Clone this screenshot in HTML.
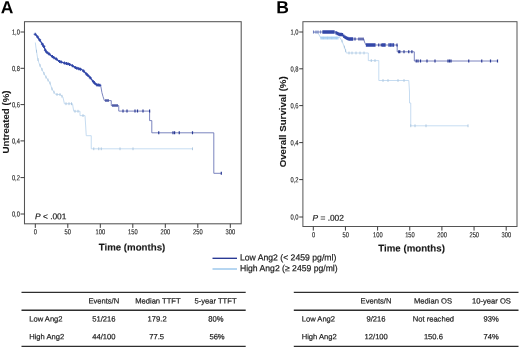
<!DOCTYPE html>
<html lang="en">
<head>
<meta charset="utf-8">
<title>Kaplan-Meier curves: Low vs High Ang2</title>
<style>
html,body{margin:0;padding:0;background:#fff;}
body{width:520px;height:348px;position:relative;overflow:hidden;font-family:"Liberation Sans",Arial,Helvetica,sans-serif;}
.fig{position:absolute;left:0;top:0;display:block;font-family:"Liberation Sans",Arial,Helvetica,sans-serif;}
.fig text{fill:#1a1a1a;}
.fig text.t{stroke:#1a1a1a;stroke-width:0.2px;}
.fig text.k{stroke:#1a1a1a;stroke-width:0.12px;}
.fig text.b{font-weight:bold;stroke:#1a1a1a;stroke-width:0.12px;}
.fig text.p{font-weight:bold;fill:#000;}
</style>
</head>
<body>
<svg width="520" height="348" viewBox="0 0 520 348" class="fig">
<defs><filter id="soft" x="-5%" y="-5%" width="110%" height="110%"><feGaussianBlur stdDeviation="0.35"/></filter></defs>
<rect width="520" height="348" fill="#ffffff"/>
<g filter="url(#soft)">
<rect x="24.5" y="21.7" width="216.7" height="202.1" fill="none" stroke="#555" stroke-width="1.05"/>
<rect x="302.9" y="21.7" width="214.1" height="204.8" fill="none" stroke="#555" stroke-width="1.0"/>
<path d="M20.5,32H24.5M20.5,68.3H24.5M20.5,104.6H24.5M20.5,140.9H24.5M20.5,177.6H24.5M20.5,214H24.5M299.2,32H303M299.2,68.8H303M299.2,105.6H303M299.2,142.6H303M299.2,179.6H303M299.2,217H303M35.30,223.8V227.9M67.80,223.8V227.9M100.30,223.8V227.9M132.80,223.8V227.9M165.30,223.8V227.9M197.80,223.8V227.9M230.30,223.8V227.9M313.30,226.5V230.6M345.45,226.5V230.6M377.60,226.5V230.6M409.75,226.5V230.6M441.90,226.5V230.6M474.05,226.5V230.6M506.20,226.5V230.6" stroke="#3c3c3c" stroke-width="1" fill="none"/>
<text transform="translate(19.90,34.60) rotate(0.05) scale(0.79,1)" class="k" font-size="7.3" text-anchor="end">1,0</text>
<text transform="translate(19.90,70.90) rotate(0.05) scale(0.79,1)" class="k" font-size="7.3" text-anchor="end">0,8</text>
<text transform="translate(19.90,107.20) rotate(0.05) scale(0.79,1)" class="k" font-size="7.3" text-anchor="end">0,6</text>
<text transform="translate(19.90,143.50) rotate(0.05) scale(0.79,1)" class="k" font-size="7.3" text-anchor="end">0,4</text>
<text transform="translate(19.90,180.20) rotate(0.05) scale(0.79,1)" class="k" font-size="7.3" text-anchor="end">0,2</text>
<text transform="translate(19.90,216.60) rotate(0.05) scale(0.79,1)" class="k" font-size="7.3" text-anchor="end">0,0</text>
<text transform="translate(298.40,34.60) rotate(0.05) scale(0.79,1)" class="k" font-size="7.3" text-anchor="end">1,0</text>
<text transform="translate(298.40,71.40) rotate(0.05) scale(0.79,1)" class="k" font-size="7.3" text-anchor="end">0,8</text>
<text transform="translate(298.40,108.20) rotate(0.05) scale(0.79,1)" class="k" font-size="7.3" text-anchor="end">0,6</text>
<text transform="translate(298.40,145.20) rotate(0.05) scale(0.79,1)" class="k" font-size="7.3" text-anchor="end">0,4</text>
<text transform="translate(298.40,182.20) rotate(0.05) scale(0.79,1)" class="k" font-size="7.3" text-anchor="end">0,2</text>
<text transform="translate(298.40,219.60) rotate(0.05) scale(0.79,1)" class="k" font-size="7.3" text-anchor="end">0,0</text>
<text transform="translate(35.30,234.30) rotate(0.05) scale(0.79,1)" class="k" font-size="7.3" text-anchor="middle">0</text>
<text transform="translate(67.80,234.30) rotate(0.05) scale(0.79,1)" class="k" font-size="7.3" text-anchor="middle">50</text>
<text transform="translate(100.30,234.30) rotate(0.05) scale(0.79,1)" class="k" font-size="7.3" text-anchor="middle">100</text>
<text transform="translate(132.80,234.30) rotate(0.05) scale(0.79,1)" class="k" font-size="7.3" text-anchor="middle">150</text>
<text transform="translate(165.30,234.30) rotate(0.05) scale(0.79,1)" class="k" font-size="7.3" text-anchor="middle">200</text>
<text transform="translate(197.80,234.30) rotate(0.05) scale(0.79,1)" class="k" font-size="7.3" text-anchor="middle">250</text>
<text transform="translate(230.30,234.30) rotate(0.05) scale(0.79,1)" class="k" font-size="7.3" text-anchor="middle">300</text>
<text transform="translate(313.50,237.20) rotate(0.05) scale(0.79,1)" class="k" font-size="7.3" text-anchor="middle">0</text>
<text transform="translate(345.65,237.20) rotate(0.05) scale(0.79,1)" class="k" font-size="7.3" text-anchor="middle">50</text>
<text transform="translate(377.80,237.20) rotate(0.05) scale(0.79,1)" class="k" font-size="7.3" text-anchor="middle">100</text>
<text transform="translate(409.95,237.20) rotate(0.05) scale(0.79,1)" class="k" font-size="7.3" text-anchor="middle">150</text>
<text transform="translate(442.10,237.20) rotate(0.05) scale(0.79,1)" class="k" font-size="7.3" text-anchor="middle">200</text>
<text transform="translate(474.25,237.20) rotate(0.05) scale(0.79,1)" class="k" font-size="7.3" text-anchor="middle">250</text>
<text transform="translate(506.40,237.20) rotate(0.05) scale(0.79,1)" class="k" font-size="7.3" text-anchor="middle">300</text>
<text transform="translate(132.00,250.50) rotate(0.05)" class="b" font-size="9.7" text-anchor="middle">Time (months)</text>
<text transform="translate(411.60,251.50) rotate(0.05)" class="b" font-size="9.7" text-anchor="middle">Time (months)</text>
<text transform="translate(8.6,122) rotate(-90)" class="b" font-size="9.7" text-anchor="middle">Untreated (%)</text>
<text transform="translate(285.6,121.8) rotate(-90)" class="b" font-size="9.7" text-anchor="middle">Overall Survival (%)</text>
<text transform="translate(0.80,13.30) rotate(0.05)" class="p" font-size="17.5">A</text>
<text transform="translate(276.20,13.30) rotate(0.05)" class="p" font-size="17.5">B</text>
<text transform="translate(35.00,219.20) rotate(0.05)" class="t" font-size="8.4"><tspan font-style="italic">P</tspan> &lt; .001</text>
<text transform="translate(312.50,220.80) rotate(0.05)" class="t" font-size="8.4"><tspan font-style="italic">P</tspan> = .002</text>
<path d="M35.30,42.50 L36.00,48.00 L36.90,53.75 L37.60,58.00 L38.75,62.50 L40.50,66.50 L42.50,70.50 L44.00,73.50 L45.60,76.50 L48.00,80.00 L50.00,83.00 L51.90,88.75 L53.50,91.50 L55.60,94.40 L60.60,94.60 L63.00,97.50 L63.60,100.00 L64.40,103.75 L72.50,103.75 L73.00,107.00 L73.75,111.25 L80.00,111.25 L80.00,115.60 L85.00,115.60 L85.60,125.00 L86.25,135.70 L91.25,135.70 L91.25,148.80 L192.50,148.80" fill="none" stroke="#bcd6ee" stroke-width="0.85" stroke-linejoin="round"/>
<path d="M36.50,49.79V52.59M38.00,58.17V60.97M40.00,63.96V66.76M42.00,68.10V70.90M44.00,72.10V74.90M46.00,75.68V78.48M48.00,78.60V81.40M50.00,81.60V84.40M52.00,87.52V90.32M54.00,90.79V93.59M57.00,93.06V95.86M60.00,93.18V95.98M62.00,94.89V97.69M66.00,102.35V105.15M69.00,102.35V105.15M71.50,102.35V105.15M75.00,109.85V112.65M78.00,109.85V112.65M83.00,114.20V117.00M93.75,147.40V150.20M98.75,147.40V150.20M101.25,147.40V150.20M120.00,147.40V150.20M133.00,147.40V150.20M192.50,147.40V150.20" stroke="#a8c4de" stroke-width="0.9" fill="none"/>
<path d="M35.00,34.00 L36.50,35.50 L38.00,37.50 L40.00,40.50 L42.00,43.50 L43.75,46.25 L45.00,49.50 L46.25,51.90 L48.50,53.50 L51.00,55.50 L53.50,57.50 L56.25,59.00 L59.00,61.20 L62.50,62.50 L66.00,63.50 L68.75,64.00 L72.00,65.50 L76.25,68.00 L80.00,69.00 L82.50,70.00 L85.00,72.50 L87.50,75.00 L90.00,77.50 L92.50,80.60 L95.00,83.50 L96.90,85.00 L100.60,85.30 L101.30,89.00 L101.90,92.50 L103.00,96.50 L104.40,100.60 L111.25,100.60 L111.25,105.60 L118.75,105.60 L118.75,111.10 L149.60,111.10 L149.60,120.60 L151.80,120.60 L151.80,132.80 L213.80,132.80 L213.80,173.30 L221.30,173.30" fill="none" stroke="#5a66ae" stroke-width="0.8" stroke-linejoin="round"/>
<path d="M35.00,34.00 L36.50,35.50 L38.00,37.50 L40.00,40.50 L42.00,43.50 L43.75,46.25 L45.00,49.50 L46.25,51.90 L48.50,53.50 L51.00,55.50 L53.50,57.50 L56.25,59.00 L59.00,61.20 L62.50,62.50 L66.00,63.50 L68.75,64.00 L72.00,65.50 L76.25,68.00 L80.00,69.00 L82.50,70.00 L85.00,72.50 L87.50,75.00 L90.00,77.50 L92.50,80.60 L95.00,83.50 L96.90,85.00 L100.60,85.30" fill="none" stroke="#3046a8" stroke-width="1.3" stroke-linejoin="round"/>
<path d="M35.20,32.70V35.70M33.70,34.20H36.70M37.60,35.47V38.47M36.10,36.97H39.10M39.60,38.40V41.40M38.10,39.90H41.10M42.40,42.63V45.63M40.90,44.13H43.90M43.80,44.88V47.88M42.30,46.38H45.30M45.40,48.77V51.77M43.90,50.27H46.90M47.00,50.93V53.93M45.50,52.43H48.50M49.20,52.56V55.56M47.70,54.06H50.70M52.40,55.12V58.12M50.90,56.62H53.90M54.00,56.27V59.27M52.50,57.77H55.50M56.40,57.62V60.62M54.90,59.12H57.90M59.60,59.92V62.92M58.10,61.42H61.10M61.20,60.52V63.52M59.70,62.02H62.70M64.40,61.54V64.54M62.90,63.04H65.90M66.40,62.07V65.07M64.90,63.57H67.90M68.00,62.36V65.36M66.50,63.86H69.50M69.60,62.89V65.89M68.10,64.39H71.10M72.40,64.24V67.24M70.90,65.74H73.90M75.20,65.88V68.88M73.70,67.38H76.70M76.80,66.65V69.65M75.30,68.15H78.30M78.80,67.18V70.18M77.30,68.68H80.30M80.40,67.66V70.66M78.90,69.16H81.90M83.60,69.60V72.60M82.10,71.10H85.10M86.40,72.40V75.40M84.90,73.90H87.90M88.00,74.00V77.00M86.50,75.50H89.50M90.20,76.25V79.25M88.70,77.75H91.70M93.40,80.14V83.14M91.90,81.64H94.90M95.00,82.00V85.00M93.50,83.50H96.50M97.00,83.51V86.51M95.50,85.01H98.50M98.40,83.62V86.62M96.90,85.12H99.90M99.80,83.74V86.74M98.30,85.24H101.30" stroke="#3046a8" stroke-width="1.15" fill="none"/>
<path d="M106.00,99.10V102.10M108.00,99.10V102.10M113.00,104.10V107.10M115.00,104.10V107.10M117.00,104.10V107.10M123.00,109.60V112.60M127.00,109.60V112.60M135.00,109.60V112.60M137.50,109.60V112.60M143.00,109.60V112.60M149.60,109.60V112.60M158.75,131.30V134.30M173.00,131.30V134.30M174.60,131.30V134.30M179.25,131.30V134.30M192.50,131.30V134.30M221.30,171.80V174.80" stroke="#2b3a94" stroke-width="1.2" fill="none"/>
<path d="M313.00,32.50 L318.00,33.00 L320.60,37.60 L340.00,37.60 L341.00,39.50 L342.00,41.00 L343.50,45.00 L345.00,48.50 L346.30,53.00 L368.30,53.00 L368.30,60.60 L378.80,60.60 L378.80,80.50 L408.80,80.50 L409.50,92.00 L409.50,103.00 L410.75,103.00 L410.75,125.80 L468.00,125.80" fill="none" stroke="#bcd6ee" stroke-width="0.85" stroke-linejoin="round"/>
<path d="M321.00,36.40V39.60M322.30,36.40V39.60M323.60,36.40V39.60M324.90,36.40V39.60M326.20,36.40V39.60M327.50,36.40V39.60M328.80,36.40V39.60M330.10,36.40V39.60M331.40,36.40V39.60M332.70,36.40V39.60M334.00,36.40V39.60M335.30,36.40V39.60M336.60,36.40V39.60M337.90,36.40V39.60" stroke="#a3ccf2" stroke-width="1.1" fill="none"/>
<path d="M349.00,51.60V54.40M352.00,51.60V54.40M356.00,51.60V54.40M360.00,51.60V54.40M364.00,51.60V54.40M371.25,59.20V62.00M375.00,59.20V62.00M383.00,79.10V81.90M388.00,79.10V81.90M398.00,79.10V81.90M404.00,79.10V81.90M410.75,124.40V127.20M415.00,124.40V127.20M426.00,124.40V127.20M468.00,124.40V127.20M342.00,39.60V42.40M344.40,45.70V48.50M345.60,49.18V51.98" stroke="#a8c4de" stroke-width="0.9" fill="none"/>
<path d="M313.00,32.00 L335.00,32.00 L337.00,33.30 L340.00,34.50 L342.50,34.70 L344.00,36.50 L346.00,37.80 L349.00,39.00 L363.75,39.00 L364.50,42.00 L366.00,45.00 L397.20,45.00 L397.20,51.80 L414.30,51.80 L414.30,61.00 L497.50,61.00" fill="none" stroke="#5a66ae" stroke-width="0.8" stroke-linejoin="round"/>
<path d="M323.00,30.25V33.75M324.10,30.25V33.75M325.20,30.25V33.75M326.30,30.25V33.75M327.40,30.25V33.75M328.50,30.25V33.75M329.60,30.25V33.75M330.70,30.25V33.75M331.80,30.25V33.75M332.90,30.25V33.75M334.00,30.25V33.75M336.00,30.90V34.40M337.30,31.67V35.17M338.60,32.19V35.69M339.90,32.71V36.21M341.20,32.85V36.35M342.50,32.95V36.45M343.80,34.51V38.01M345.10,35.47V38.97M346.40,36.21V39.71M347.70,36.73V40.23M349.00,37.25V40.75M349.00,37.25V40.75M350.20,37.25V40.75M351.40,37.25V40.75M352.60,37.25V40.75M366.50,43.25V46.75M367.70,43.25V46.75M368.90,43.25V46.75M370.10,43.25V46.75M371.30,43.25V46.75M372.50,43.25V46.75M373.70,43.25V46.75M374.90,43.25V46.75M382.50,43.25V46.75M383.75,43.25V46.75M385.00,43.25V46.75M389.00,43.25V46.75M390.50,43.25V46.75M392.00,43.25V46.75M393.50,43.25V46.75" stroke="#3046a8" stroke-width="1.3" fill="none"/>
<path d="M313.50,30.40V33.60M316.00,30.40V33.60M318.00,30.40V33.60M320.50,30.40V33.60" stroke="#6f80c0" stroke-width="1.1" fill="none"/>
<path d="M355.00,37.50V40.50M359.00,37.50V40.50M361.00,37.50V40.50M363.00,37.50V40.50M378.75,43.50V46.50M381.25,43.50V46.50M397.00,43.50V46.50M398.75,50.30V53.30M399.80,50.30V53.30M404.00,50.30V53.30M408.75,50.30V53.30M411.90,50.30V53.30M416.25,59.50V62.50M418.00,59.50V62.50M420.50,59.50V62.50M427.00,59.50V62.50M435.00,59.50V62.50M448.00,59.50V62.50M449.50,59.50V62.50M451.00,59.50V62.50M468.75,59.50V62.50M481.75,59.50V62.50M490.50,59.50V62.50M497.50,59.50V62.50" stroke="#2b3a94" stroke-width="1.2" fill="none"/>
<path d="M212.5,258.3H237" stroke="#1f2f8f" stroke-width="1.3"/>
<path d="M212.5,269H237" stroke="#8fc0ea" stroke-width="1.3"/>
<text transform="translate(239.90,260.50) rotate(0.05) scale(0.967,1)" class="t" font-size="8.95">Low Ang2 (&lt; 2459 pg/ml)</text>
<text transform="translate(239.90,271.20) rotate(0.05) scale(0.965,1)" class="t" font-size="8.95">High Ang2 (≥ 2459 pg/ml)</text>
<path d="M21.5,292.4H245.7M21.5,310.2H245.7M21.5,346.4H245.7" stroke="#2e2e2e" stroke-width="1.35" fill="none"/>
<text transform="translate(103.80,303.60) rotate(0.05)" class="t" font-size="7.6" text-anchor="middle">Events/N</text>
<text transform="translate(157.90,303.60) rotate(0.05)" class="t" font-size="7.6" text-anchor="middle">Median TTFT</text>
<text transform="translate(215.50,303.60) rotate(0.05)" class="t" font-size="7.6" text-anchor="middle">5-year TTFT</text>
<text transform="translate(29.20,321.50) rotate(0.05)" class="t" font-size="7.6">Low Ang2</text>
<text transform="translate(103.90,321.50) rotate(0.05)" class="t" font-size="7.6" text-anchor="middle">51/216</text>
<text transform="translate(157.10,321.50) rotate(0.05)" class="t" font-size="7.6" text-anchor="middle">179.2</text>
<text transform="translate(215.80,321.50) rotate(0.05)" class="t" font-size="7.6" text-anchor="middle">80%</text>
<text transform="translate(29.20,339.30) rotate(0.05)" class="t" font-size="7.6">High Ang2</text>
<text transform="translate(103.90,339.30) rotate(0.05)" class="t" font-size="7.6" text-anchor="middle">44/100</text>
<text transform="translate(156.60,339.30) rotate(0.05)" class="t" font-size="7.6" text-anchor="middle">77.5</text>
<text transform="translate(217.00,339.30) rotate(0.05)" class="t" font-size="7.6" text-anchor="middle">56%</text>
<path d="M293.8,292.4H518.5M293.8,310.2H518.5M293.8,346.4H518.5" stroke="#2e2e2e" stroke-width="1.35" fill="none"/>
<text transform="translate(376.00,303.60) rotate(0.05)" class="t" font-size="7.6" text-anchor="middle">Events/N</text>
<text transform="translate(433.00,303.60) rotate(0.05)" class="t" font-size="7.6" text-anchor="middle">Median OS</text>
<text transform="translate(491.50,303.60) rotate(0.05)" class="t" font-size="7.6" text-anchor="middle">10-year OS</text>
<text transform="translate(301.70,321.50) rotate(0.05)" class="t" font-size="7.6">Low Ang2</text>
<text transform="translate(376.00,321.50) rotate(0.05)" class="t" font-size="7.6" text-anchor="middle">9/216</text>
<text transform="translate(433.40,321.50) rotate(0.05)" class="t" font-size="7.6" text-anchor="middle">Not reached</text>
<text transform="translate(491.10,321.50) rotate(0.05)" class="t" font-size="7.6" text-anchor="middle">93%</text>
<text transform="translate(301.70,339.30) rotate(0.05)" class="t" font-size="7.6">High Ang2</text>
<text transform="translate(376.20,339.30) rotate(0.05)" class="t" font-size="7.6" text-anchor="middle">12/100</text>
<text transform="translate(433.40,339.30) rotate(0.05)" class="t" font-size="7.6" text-anchor="middle">150.6</text>
<text transform="translate(491.20,339.30) rotate(0.05)" class="t" font-size="7.6" text-anchor="middle">74%</text>
</g>
</svg>
</body>
</html>
